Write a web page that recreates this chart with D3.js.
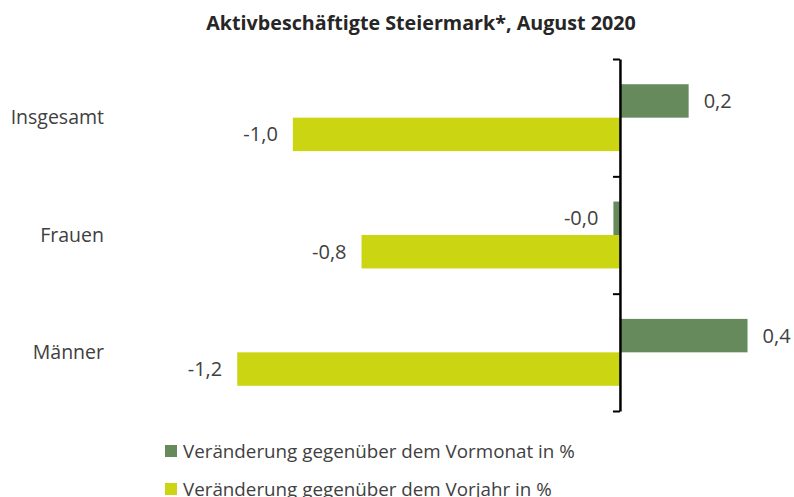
<!DOCTYPE html>
<meta charset="utf-8">
<script src="https://d3js.org/d3.v7.min.js"></script>
<body>
    <div id="viz"></div>
</body>
<style>
    body { margin: 0; background: #fff; }
    text { font-family: "Open Sans", sans-serif; fill: #404040; }
</style>
<script>
    // data
    let categories = ["Insgesamt", "Frauen", "Männer"];
    let seriesNames = ["Veränderung gegenüber dem Vormonat in %", "Veränderung gegenüber dem Vorjahr in %"];
    let vormonat = [0.21, -0.02, 0.39];
    let vorjahr = [-1.0, -0.79, -1.17];
    let colors = ["#678a5c", "#cbd511"];

    let width = 794, height = 497;
    let plot = {top: 59, bottom: 411};

    let svg = d3.select("#viz")
        .append("svg")
        .attr("width", width)
        .attr("height", height);

    // title
    svg.append("text")
        .attr("x", 421)
        .attr("y", 30)
        .attr("text-anchor", "middle")
        .style("font-weight", "bold")
        .style("font-size", "19.7px")
        .style("fill", "#262626")
        .text("Aktivbeschäftigte Steiermark*, August 2020");

    // scales
    let x = d3.scaleLinear()
        .domain([-1.4, 0.5])
        .range([162, 783.5]);

    let y = d3.scaleBand()
        .domain(categories)
        .range([plot.top, plot.bottom])
        .paddingInner(0.43)
        .paddingOuter(0.215);

    let ySub = d3.scaleBand()
        .domain([0, 1])
        .range([0, y.bandwidth()]);

    let data = categories.map((c, i) => ({cat: c, values: [vormonat[i], vorjahr[i]]}));

    let fmt = v => (v < 0 ? "-" : "") + Math.abs(v).toFixed(1).replace(".", ",");

    let groups = svg.append("g")
        .selectAll("g")
        .data(data)
        .enter()
        .append("g")
            .attr("transform", d => `translate(0,${y(d.cat)})`);

    groups.selectAll("rect")
        .data(d => d.values)
        .enter()
        .append("rect")
            .attr("x", d => x(Math.min(0, d)))
            .attr("y", (d, i) => ySub(i))
            .attr("width", d => Math.abs(x(d) - x(0)))
            .attr("height", ySub.bandwidth())
            .style("fill", (d, i) => colors[i]);

    groups.selectAll("text")
        .data(d => d.values)
        .enter()
        .append("text")
            .attr("x", d => d < 0 ? x(d) - 15 : x(d) + 15)
            .attr("y", (d, i) => ySub(i) + ySub.bandwidth() / 2)
            .attr("dy", "0.35em")
            .attr("text-anchor", d => d < 0 ? "end" : "start")
            .style("font-size", "20px")
            .text(d => fmt(d));

    // category labels
    svg.append("g")
        .selectAll("text")
        .data(categories)
        .enter()
        .append("text")
            .attr("x", 104)
            .attr("y", d => y(d) + y.bandwidth() / 2)
            .attr("dy", "0.35em")
            .attr("text-anchor", "end")
            .style("font-size", "19.5px")
            .text(d => d);

    // vertical axis at zero, ticks between categories
    let yEdge = d3.scaleLinear()
        .domain([0, categories.length])
        .range([plot.top, plot.bottom]);
    let yAxis = svg.append("g")
        .attr("transform", `translate(${x(0)},0)`)
        .call(d3.axisLeft(yEdge)
            .tickValues(d3.range(0, categories.length + 1))
            .tickSize(7)
            .tickSizeOuter(0)
            .tickFormat(""));
    yAxis.select(".domain")
        .attr("stroke", "black")
        .attr("stroke-width", 2.5);
    yAxis.selectAll(".tick line")
        .attr("stroke", "black")
        .attr("stroke-width", 2);

    // legend
    let legend = svg.append("g")
        .attr("transform", "translate(165,445)");
    let items = legend.selectAll("g")
        .data(seriesNames)
        .enter()
        .append("g")
            .attr("transform", (d, i) => `translate(0,${i * 38})`);
    items.append("rect")
        .attr("width", 12)
        .attr("height", 12)
        .style("fill", (d, i) => colors[i]);
    items.append("text")
        .attr("x", 18)
        .attr("y", 6)
        .attr("dy", "0.35em")
        .style("font-size", "18.8px")
        .text(d => d);
</script>
